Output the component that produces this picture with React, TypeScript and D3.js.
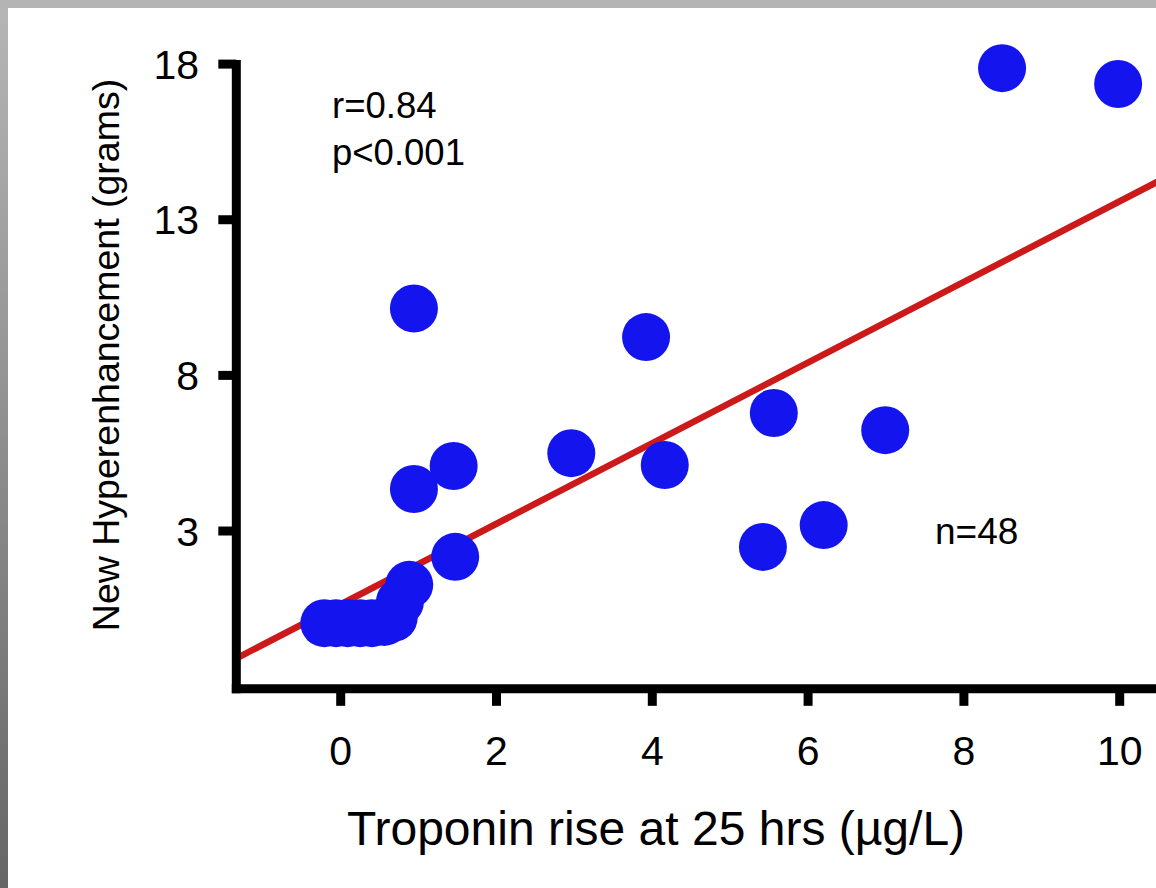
import React from "react";
import * as d3 from "d3";

// Data
const troponinRise = [8.49, 9.98, 0.94, 3.92, 5.56, 6.99, 2.96, 4.16, 1.45, 0.94, 6.2, 5.42, 1.47, -0.21, -0.06, 0.09, 0.25, 0.4, 0.56, 0.68, 0.76, 0.88];
const newHyper = [17.87, 17.36, 10.15, 9.23, 6.79, 6.24, 5.5, 5.12, 5.09, 4.35, 3.19, 2.49, 2.17, 0.04, 0.04, 0.04, 0.04, 0.04, 0.08, 0.21, 0.72, 1.27];
const fitX = [-1.3, 10.6];
const fitY = [-1.04, 14.37];
const xTicks = [0, 2, 4, 6, 8, 10];
const yTicks = [3, 8, 13, 18];
const xAxisStart = -1.34;
const yAxisStart = -2.07;
const annotations = ["r=0.84", "p<0.001"];
const nLabel = "n=48";
const xTitle = "Troponin rise at 25 hrs (\u00b5g/L)";
const yTitle = "New Hyperenhancement (grams)";

const W = 1156;
const H = 888;
const FONT = "'Liberation Sans', Arial, sans-serif";

export default function App() {
  const x = d3.scaleLinear().domain([0, 10]).range([340.7, 1119.7]);
  const y = d3.scaleLinear().domain([0, 18]).range([624.4, 64.1]);
  const ax = x(xAxisStart);
  const ay = y(yAxisStart);
  const line = d3
    .line<number>()
    .x((d) => x(d))
    .y((_, i) => y(fitY[i]));
  const axisW = 9;

  return (
    <svg
      width={W}
      height={H}
      style={{ position: "absolute", left: 0, top: 0, display: "block" }}
      fontFamily={FONT}
    >
      <defs>
        <linearGradient id="leftband" x1="0" y1="0" x2="0" y2="1">
          <stop offset="0" stopColor="#b6b6b6" />
          <stop offset="1" stopColor="#666666" />
        </linearGradient>
      </defs>
      <rect x={0} y={0} width={W} height={H} fill="url(#leftband)" />
      <rect x={0} y={0} width={W} height={8} fill="#b4b4b4" />
      <rect x={8} y={8} width={W - 8} height={H - 8} fill="#ffffff" />

      {/* regression line */}
      <path d={line(fitX) || ""} fill="none" stroke="#cc1a1a" strokeWidth={6.5} />

      {/* points */}
      {troponinRise.map((v, i) => (
        <circle key={i} cx={x(v)} cy={y(newHyper[i])} r={24} fill="#1414ee" />
      ))}

      {/* axes */}
      <line x1={ax} x2={ax} y1={y(18) - 4} y2={ay + axisW / 2} stroke="#000" strokeWidth={axisW} />
      <line x1={ax - axisW / 2} x2={W} y1={ay} y2={ay} stroke="#000" strokeWidth={axisW} />
      {yTicks.map((t) => (
        <line key={"yt" + t} x1={ax - 18} x2={ax} y1={y(t)} y2={y(t)} stroke="#000" strokeWidth={9} />
      ))}
      {xTicks.map((t) => (
        <line key={"xt" + t} x1={x(t)} x2={x(t)} y1={ay} y2={ay + 17} stroke="#000" strokeWidth={9} />
      ))}

      {/* tick labels */}
      {yTicks.map((t) => (
        <text key={"yl" + t} x={199} y={y(t)} dy="0.36em" textAnchor="end" fontSize={41} fill="#000">
          {t}
        </text>
      ))}
      {xTicks.map((t) => (
        <text key={"xl" + t} x={x(t)} y={765} textAnchor="middle" fontSize={41} fill="#000">
          {t}
        </text>
      ))}

      {/* titles */}
      <text x={656} y={845} textAnchor="middle" fontSize={48} fill="#000">
        {xTitle}
      </text>
      <text
        transform={`translate(119, 355) rotate(-90)`}
        textAnchor="middle"
        fontSize={37.5}
        fill="#000"
      >
        {yTitle}
      </text>

      {/* annotations */}
      {annotations.map((a, i) => (
        <text key={a} x={332} y={118 + i * 47} fontSize={36.5} fill="#000">
          {a}
        </text>
      ))}
      <text x={935} y={544} fontSize={37} fill="#000">
        {nLabel}
      </text>
    </svg>
  );
}
